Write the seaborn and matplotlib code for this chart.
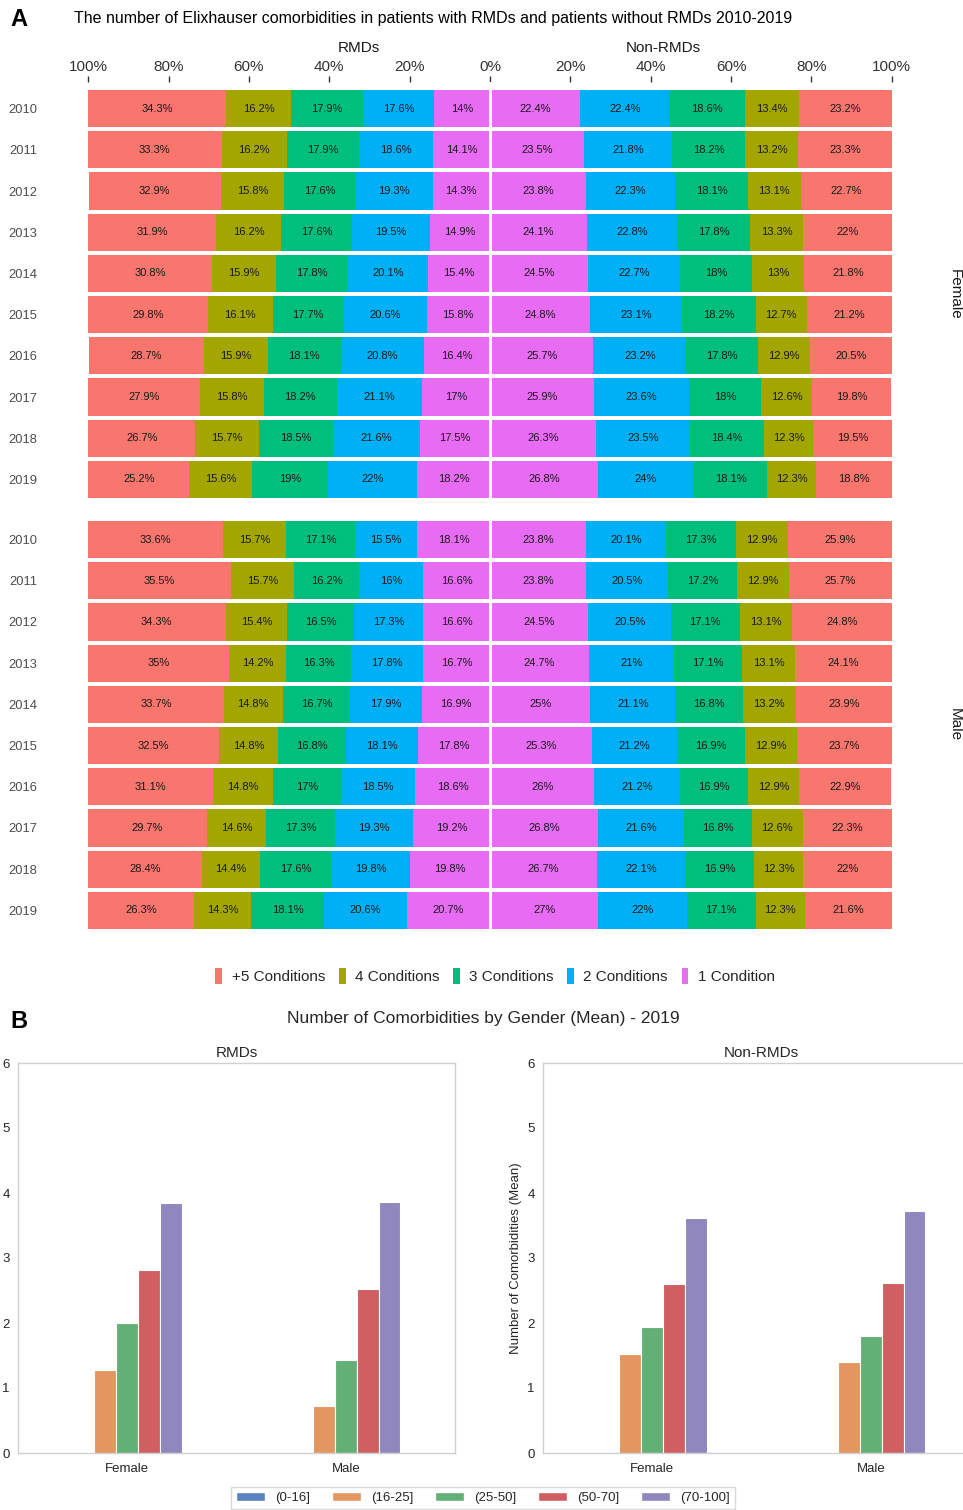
import numpy as np
import pandas as pd
import matplotlib
matplotlib.use("Agg")
import matplotlib.pyplot as plt
import seaborn as sns
from matplotlib.patches import Patch

# ---------------- data: panel A ----------------
years = ["2010", "2011", "2012", "2013", "2014", "2015", "2016", "2017", "2018", "2019"]
conditions = ["+5 Conditions", "4 Conditions", "3 Conditions", "2 Conditions", "1 Condition"]
cond_colors = ["#F8766D", "#A3A500", "#00BF7D", "#00B0F6", "#E76BF3"]

# Female, RMDs
f_rmd_5 = [34.3, 33.3, 32.9, 31.9, 30.8, 29.8, 28.7, 27.9, 26.7, 25.2]
f_rmd_4 = [16.2, 16.2, 15.8, 16.2, 15.9, 16.1, 15.9, 15.8, 15.7, 15.6]
f_rmd_3 = [17.9, 17.9, 17.6, 17.6, 17.8, 17.7, 18.1, 18.2, 18.5, 19.0]
f_rmd_2 = [17.6, 18.6, 19.3, 19.5, 20.1, 20.6, 20.8, 21.1, 21.6, 22.0]
f_rmd_1 = [14.0, 14.1, 14.3, 14.9, 15.4, 15.8, 16.4, 17.0, 17.5, 18.2]
# Female, Non-RMDs
f_non_1 = [22.4, 23.5, 23.8, 24.1, 24.5, 24.8, 25.7, 25.9, 26.3, 26.8]
f_non_2 = [22.4, 21.8, 22.3, 22.8, 22.7, 23.1, 23.2, 23.6, 23.5, 24.0]
f_non_3 = [18.6, 18.2, 18.1, 17.8, 18.0, 18.2, 17.8, 18.0, 18.4, 18.1]
f_non_4 = [13.4, 13.2, 13.1, 13.3, 13.0, 12.7, 12.9, 12.6, 12.3, 12.3]
f_non_5 = [23.2, 23.3, 22.7, 22.0, 21.8, 21.2, 20.5, 19.8, 19.5, 18.8]
# Male, RMDs
m_rmd_5 = [33.6, 35.5, 34.3, 35.0, 33.7, 32.5, 31.1, 29.7, 28.4, 26.3]
m_rmd_4 = [15.7, 15.7, 15.4, 14.2, 14.8, 14.8, 14.8, 14.6, 14.4, 14.3]
m_rmd_3 = [17.1, 16.2, 16.5, 16.3, 16.7, 16.8, 17.0, 17.3, 17.6, 18.1]
m_rmd_2 = [15.5, 16.0, 17.3, 17.8, 17.9, 18.1, 18.5, 19.3, 19.8, 20.6]
m_rmd_1 = [18.1, 16.6, 16.6, 16.7, 16.9, 17.8, 18.6, 19.2, 19.8, 20.7]
# Male, Non-RMDs
m_non_1 = [23.8, 23.8, 24.5, 24.7, 25.0, 25.3, 26.0, 26.8, 26.7, 27.0]
m_non_2 = [20.1, 20.5, 20.5, 21.0, 21.1, 21.2, 21.2, 21.6, 22.1, 22.0]
m_non_3 = [17.3, 17.2, 17.1, 17.1, 16.8, 16.9, 16.9, 16.8, 16.9, 17.1]
m_non_4 = [12.9, 12.9, 13.1, 13.1, 13.2, 12.9, 12.9, 12.6, 12.3, 12.3]
m_non_5 = [25.9, 25.7, 24.8, 24.1, 23.9, 23.7, 22.9, 22.3, 22.0, 21.6]

pct_ticks = [-100, -80, -60, -40, -20, 0, 20, 40, 60, 80, 100]
pct_labels = ["100%", "80%", "60%", "40%", "20%", "0%", "20%", "40%", "60%", "80%", "100%"]

# ---------------- data: panel B ----------------
genders = ["Female", "Male"]
age_groups = ["(0-16]", "(16-25]", "(25-50]", "(50-70]", "(70-100]"]
age_colors = ["#5A82C0", "#E49660", "#63B077", "#CF5F60", "#8F87BD"]
rmd_female_mean = [0.0, 1.28, 2.00, 2.82, 3.85]
rmd_male_mean = [0.0, 0.72, 1.43, 2.53, 3.86]
non_female_mean = [0.0, 1.52, 1.94, 2.60, 3.62]
non_male_mean = [0.0, 1.40, 1.80, 2.61, 3.72]

# ---------------- style ----------------
sns.set_theme(style="whitegrid")
plt.rcParams["font.family"] = ["Liberation Sans", "DejaVu Sans"]
plt.rcParams["axes.grid"] = False

W, H = 963, 1510
fig = plt.figure(figsize=(W / 100, H / 100), dpi=100)


def ax_px(x0, y0, x1, y1):
    return fig.add_axes([x0 / W, 1 - y1 / H, (x1 - x0) / W, (y1 - y0) / H])


def fmt(v):
    return f"{v:g}%"


def draw_facet(ax, rmd_lists, non_lists):
    # lists ordered from 1 condition (inner) to +5 (outer)
    n = len(years)
    cum_l = [np.cumsum([rmd_lists[k][i] for k in range(5)]) for i in range(n)]
    cum_r = [np.cumsum([non_lists[k][i] for k in range(5)]) for i in range(n)]
    # draw outermost first so inner segments overlay (stacked look)
    for k in range(4, -1, -1):
        col = cond_colors[4 - k]
        left_vals = [-cum_l[i][k] for i in range(n)]
        right_vals = [cum_r[i][k] for i in range(n)]
        dfl = pd.DataFrame({"year": years, "val": left_vals})
        dfr = pd.DataFrame({"year": years, "val": right_vals})
        sns.barplot(data=dfl, x="val", y="year", orient="h", color=col,
                    width=0.9, linewidth=0, saturation=1, ax=ax, order=years)
        sns.barplot(data=dfr, x="val", y="year", orient="h", color=col,
                    width=0.9, linewidth=0, saturation=1, ax=ax, order=years)
    for i in range(n):
        for k in range(5):
            vl = rmd_lists[k][i]
            vr = non_lists[k][i]
            cl = -(cum_l[i][k] - vl / 2)
            cr = cum_r[i][k] - vr / 2
            ax.text(cl, i, fmt(vl), ha="center", va="center", fontsize=8, color="#1a1a1a")
            ax.text(cr, i, fmt(vr), ha="center", va="center", fontsize=8, color="#1a1a1a")
    ax.axvline(0, color="white", lw=2.2)
    ax.set_xlim(-110, 110)
    ax.set_ylim(9.5, -0.5 - 6 / 41.2)
    ax.set_xlabel("")
    ax.set_ylabel("")
    for s in ax.spines.values():
        s.set_visible(False)
    ax.tick_params(axis="y", length=0, pad=8, labelsize=9.3, labelcolor="#4D4D4D")


# Female facet
axF = ax_px(48, 82, 932, 500)
draw_facet(axF, [f_rmd_1, f_rmd_2, f_rmd_3, f_rmd_4, f_rmd_5],
           [f_non_1, f_non_2, f_non_3, f_non_4, f_non_5])
axF.xaxis.tick_top()
axF.set_xticks(pct_ticks)
axF.set_xticklabels(pct_labels)
axF.tick_params(axis="x", top=True, bottom=False, length=4, width=1, color="#333333",
                labelsize=11, labelcolor="#333333", pad=2)

# Male facet
axM = ax_px(48, 513, 932, 931)
draw_facet(axM, [m_rmd_1, m_rmd_2, m_rmd_3, m_rmd_4, m_rmd_5],
           [m_non_1, m_non_2, m_non_3, m_non_4, m_non_5])
axM.set_xticks([])

fig.text(955 / W, 1 - 294 / H, "Female", rotation=-90, ha="center", va="center", fontsize=11, color="#1a1a1a")
fig.text(955 / W, 1 - 725 / H, "Male", rotation=-90, ha="center", va="center", fontsize=11, color="#1a1a1a")
fig.text(359 / W, 1 - 48 / H, "RMDs", ha="center", va="center", fontsize=11, color="#1a1a1a")
fig.text(663 / W, 1 - 48 / H, "Non-RMDs", ha="center", va="center", fontsize=11, color="#1a1a1a")

fig.text(10 / W, 1 - 20 / H, "A", fontsize=17, fontweight="bold", ha="left", va="center", color="black")
fig.text(74 / W, 1 - 19 / H,
         "The number of Elixhauser comorbidities in patients with RMDs and patients without RMDs 2010-2019",
         fontsize=11.5, ha="left", va="center", color="black")

cond_handles = [Patch(facecolor=c, edgecolor="none") for c in cond_colors]
fig.legend(cond_handles, conditions, loc="center", bbox_to_anchor=(495 / W, 1 - 976 / H),
           ncol=5, frameon=False, fontsize=11, handlelength=0.45, handleheight=1.3,
           handletextpad=0.6, columnspacing=0.9)

# ---------------- panel B ----------------
fig.text(10 / W, 1 - 1021 / H, "B", fontsize=17, fontweight="bold", ha="left", va="center", color="black")
fig.text(483 / W, 1 - 1019 / H, "Number of Comorbidities by Gender (Mean) - 2019",
         fontsize=12.5, ha="center", va="center", color="#262626")


def mean_df(fem, mal):
    return pd.DataFrame({
        "Gender": [genders[0]] * len(age_groups) + [genders[1]] * len(age_groups),
        "Age": age_groups * 2,
        "Mean": list(fem) + list(mal),
    })


axL = ax_px(18, 1063, 455, 1453)
axR = ax_px(543, 1063, 980, 1453)
for ax, fem, mal, ttl in [(axL, rmd_female_mean, rmd_male_mean, "RMDs"),
                          (axR, non_female_mean, non_male_mean, "Non-RMDs")]:
    sns.barplot(data=mean_df(fem, mal), x="Gender", y="Mean", hue="Age", hue_order=age_groups,
                order=genders, palette=age_colors, saturation=1, width=0.5, ax=ax, legend=False,
                edgecolor="white", linewidth=0.8)
    ax.set_ylim(0, 6)
    ax.set_xlim(-0.5, 1.5)
    ax.set_title(ttl, fontsize=11, color="#262626", pad=4)
    ax.set_xlabel("")
    ax.tick_params(axis="both", labelsize=9.5, labelcolor="#262626", length=0)
    ax.tick_params(axis="y", pad=6)
    ax.tick_params(axis="x", pad=7)
    for s in ax.spines.values():
        s.set_color("#d0d0d0")
        s.set_linewidth(1)
axL.set_ylabel("")
axR.set_ylabel("Number of Comorbidities (Mean)", fontsize=9.5, color="#262626", labelpad=4)

age_handles = [Patch(facecolor=age_colors[i], edgecolor="white") for i in range(len(age_groups))]
fig.legend(age_handles, age_groups, loc="center", bbox_to_anchor=(483 / W, 1 - 1498 / H),
           ncol=5, frameon=True, fontsize=9.5, handlelength=2.2, handleheight=0.7,
           columnspacing=1.6, edgecolor="#d0d0d0", fancybox=False)

fig.savefig("out.png", dpi=100)
